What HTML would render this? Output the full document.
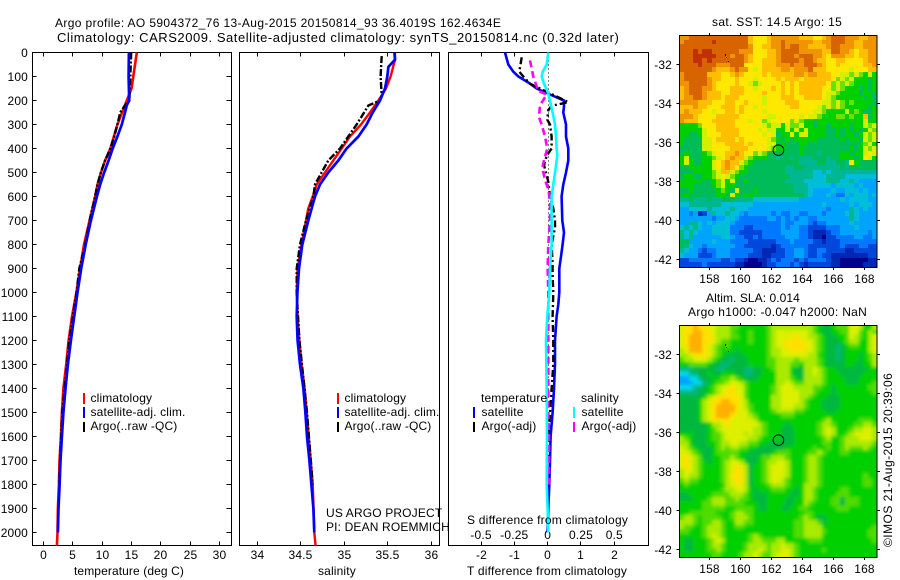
<!DOCTYPE html>
<html>
<head>
<meta charset="utf-8">
<style>
html,body{margin:0;padding:0;background:#fff;}
svg{display:block;}
text{font-family:"Liberation Sans",sans-serif;font-size:12px;fill:#000;letter-spacing:.15px;}
</style>
</head>
<body>
<svg id="fig" xmlns="http://www.w3.org/2000/svg" width="900" height="580" viewBox="0 0 900 580">
<defs>
<filter id="soften" x="-5%" y="-5%" width="110%" height="110%">
<feGaussianBlur stdDeviation="1.6" result="b"/>
<feMerge><feMergeNode in="SourceGraphic"/><feMergeNode in="b"/></feMerge>
</filter>
<clipPath id="slaClip"><rect x="679.5" y="325" width="197.5" height="232"/></clipPath>
</defs>
<rect width="900" height="580" fill="#fff"/>
<text x="55" y="27" textLength="446" lengthAdjust="spacing">Argo profile: AO 5904372_76 13-Aug-2015 20150814_93 36.4019S 162.4634E</text>
<text x="57" y="42" textLength="562" lengthAdjust="spacing" style="font-size:13px">Climatology: CARS2009. Satellite-adjusted climatology: synTS_20150814.nc (0.32d later)</text>
<g id="layer"></g>
<g>
<rect x="83" y="393" width="2" height="11" fill="#f00"/>
<text x="90.5" y="402">climatology</text>
<rect x="83" y="407" width="2" height="11" fill="#00f"/>
<text x="90.5" y="416">satellite-adj. clim.</text>
<rect x="83" y="422" width="2" height="10" fill="#000"/>
<text x="90.5" y="430">Argo(..raw -QC)</text>
</g>
<g>
<rect x="337" y="393" width="2" height="11" fill="#f00"/>
<text x="344.5" y="402">climatology</text>
<rect x="337" y="407" width="2" height="11" fill="#00f"/>
<text x="344.5" y="416">satellite-adj. clim.</text>
<rect x="337" y="422" width="2" height="10" fill="#000"/>
<text x="344.5" y="430">Argo(..raw -QC)</text>
</g>
<text x="326" y="517">US ARGO PROJECT</text>
<text x="326" y="531">PI: DEAN ROEMMICH</text>
<g>
<text x="481" y="402">temperature</text>
<rect x="473" y="407" width="2" height="11" fill="#00f"/>
<text x="481.5" y="416">satellite</text>
<rect x="473" y="422" width="2" height="10" fill="#000"/>
<text x="481.5" y="430">Argo(-adj)</text>
<text x="581" y="402">salinity</text>
<rect x="573" y="407" width="2" height="11" fill="#0ff"/>
<text x="581.5" y="416">satellite</text>
<rect x="573" y="422" width="2" height="10" fill="#f0f"/>
<text x="581.5" y="430">Argo(-adj)</text>
</g>
<text x="467" y="524" textLength="161" lengthAdjust="spacing">S difference from climatology</text>
<text x="74" y="575" textLength="110" lengthAdjust="spacing">temperature (deg C)</text>
<text x="318" y="575">salinity</text>
<text x="467" y="575" textLength="160" lengthAdjust="spacing">T difference from climatology</text>
<text x="712" y="26" textLength="130" lengthAdjust="spacing">sat. SST: 14.5 Argo: 15</text>
<text x="706" y="302" textLength="94" lengthAdjust="spacing">Altim. SLA: 0.014</text>
<text x="688" y="316" textLength="179" lengthAdjust="spacing">Argo h1000: -0.047 h2000: NaN</text>
<text transform="translate(892,547) rotate(-90)" textLength="174" lengthAdjust="spacing">©IMOS 21-Aug-2015 20:39:06</text>
</svg>
<script>
// ---------- profile data ----------
var tempClimDepth = [0,100,150,200,250,300,350,400,450,500,550,600,700,800,900,1000,1100,1200,1300,1400,1500,1600,1700,1800,1900,2000,2055];
var tempClimValues = [15.9,15.3,15.0,14.2,13.4,12.6,12.0,11.4,10.5,9.8,9.2,8.8,7.85,6.9,6.25,5.6,4.85,4.27,3.87,3.4,3.13,2.97,2.73,2.62,2.45,2.39,2.28];
var tempSatDepth = [0,100,200,220,250,300,350,400,450,500,550,600,700,800,900,1000,1100,1200,1300,1400,1500,1600,1700,1800,1900,2000];
var tempSatValues = [14.55,14.5,14.6,14.2,13.9,13.35,12.6,11.8,11.1,10.35,9.66,9.1,8.08,7.2,6.42,5.8,5.23,4.67,4.16,3.75,3.4,3.13,2.9,2.75,2.56,2.45];
var tempArgoDepth = [0,200,220,250,300,350,400,450,500,550,600,700,800,900,1000,1200,1500,1800];
var tempArgoValues = [14.95,14.65,13.9,13.07,12.6,12.05,11.4,10.5,9.77,9.2,8.8,7.85,7.1,6.1,5.62,4.4,3.2,2.65];

var salClimDepth = [0,30,100,150,200,250,300,350,400,450,500,550,600,650,700,800,900,1000,1100,1200,1300,1400,1500,1600,1700,1800,1900,2000,2055];
var salClimValues = [35.586,35.586,35.536,35.483,35.395,35.299,35.195,35.069,34.973,34.877,34.782,34.686,34.64,34.59,34.563,34.513,34.467,34.456,34.467,34.487,34.513,34.548,34.571,34.594,34.617,34.64,34.651,34.659,34.674];
var salSatDepth = [0,30,60,100,150,200,250,300,350,400,450,500,550,600,700,800,900,1000,1100,1200,1300,1400,1500,1600,1700,1800,1900,2000];
var salSatValues = [35.579,35.586,35.51,35.498,35.471,35.414,35.33,35.26,35.165,35.03,34.935,34.82,34.724,34.667,34.59,34.521,34.483,34.464,34.456,34.467,34.494,34.533,34.556,34.575,34.602,34.625,34.648,34.659];
var salArgoDepth = [15,100,180,200,221,300,350,400,450,500,550,600,700,800,900,1000,1200,1500,1800];
var salArgoValues = [35.433,35.421,35.433,35.414,35.28,35.146,35.05,34.954,34.82,34.743,34.667,34.648,34.563,34.494,34.456,34.456,34.487,34.575,34.64];

var diffTSatDepth = [0,50,80,100,125,150,175,200,225,250,300,350,400,450,500,550,600,700,750,800,850,900,1000,1050,1100,1200,1300,1400,1500,1600,1700,1800,1900,2000];
var diffTSatValues = [-1.28,-1.18,-1.03,-0.88,-0.58,-0.33,0.07,0.49,0.49,0.47,0.55,0.55,0.62,0.62,0.55,0.47,0.42,0.44,0.49,0.45,0.4,0.35,0.35,0.32,0.27,0.22,0.22,0.19,0.15,0.09,0.07,0.05,0.02,0];
var diffTArgoDepth = [20,80,100,130,170,190,207,222,240,280,300,350,400,430,470,510,540,600,650,700,730,800,880,930,1000,1100,1200,1300,1400,1500,1600,1700];
var diffTArgoValues = [-0.78,-0.85,-0.73,-0.53,0.07,0.37,0.62,0.12,0.02,-0.01,0.07,0.12,0.12,-0.03,-0.11,-0.03,0.02,0.07,0.17,0.22,0.22,0.12,0.15,0.15,0.17,0.15,0.17,0.17,0.12,0.07,0.02,0.02];
var diffSSatDepth = [0,50,80,100,130,170,200,250,300,350,400,430,500,550,600,700,800,900,1000,1100,1200,1400,1600,1800,1900,2000];
var diffSSatValues = [0.005,-0.0075,-0.0375,-0.045,-0.0275,0.005,0.0175,0.0375,0.055,0.0625,0.0675,0.0725,0.055,0.0425,0.03,0.03,0.03,0.0175,0.0125,-0.0025,-0.0125,-0.0075,-0.005,-0.0075,0,0.005];
var diffSArgoDepth = [33,100,160,175,220,270,300,350,400,450,480,530,570,620,700,800,900,1000,1100,1500,1600,1800];
var diffSArgoValues = [-0.1325,-0.1075,-0.07,-0.0075,-0.0575,-0.065,-0.045,-0.02,-0.0025,-0.0275,-0.04,-0.02,0.005,0.0175,0.0175,0.005,0,0.005,0.005,0.005,0.01,0.01];

// ---------- tick labels ----------
var depthTicks = [0,100,200,300,400,500,600,700,800,900,1000,1100,1200,1300,1400,1500,1600,1700,1800,1900,2000];
var tempTicks = [0,5,10,15,20,25,30];
var salTicks = [34,34.5,35,35.5,36];
var tDiffTicks = [-2,-1,0,1,2];
var sDiffTicks = [-0.5,-0.25,0,0.25,0.5];
var lonTicks = [158,160,162,164,166,168];
var latTicks = [-32,-34,-36,-38,-40,-42];

// ---------- map data (one hex level per cell, palette index) ----------
var floatLon = [162.46];
var floatLat = [-36.40];
var islandLon = [159.0,159.05,159.2];
var islandLat = [-31.45,-31.6,-31.8];
var sstPalette = ['#00008c','#0028b4','#0048dc','#0078ff','#00a4ff','#00bed8','#00b890','#00bc58','#00d000','#6ee000','#d2f000','#ffe800','#ffbe00','#f09400','#d86400','#c03000'];
var slaPalette = ['#00008c','#0028b4','#0048dc','#0078ff','#00a4ff','#00d8e8','#00b878','#00b83c','#00d000','#50dc00','#a8ea00','#dcf000','#ffe000','#ffb000','#d86400','#c03000'];
var sstRows = [
"ddeeeeeeee eeeeecbbbc ddddddcccb bcdeeedddc cdd",
"deeeeeefee eeeeecbbbc ddeddddddc cddeeeddcc ddd",
"eeeeeeeeee eeeeedbbcc ddedeeddcc ccdeedddcc ddd",
"eeefeffeee eeedddbbbc cdeeeedddd dcceeddcbc cdd",
"eeefffffee edeedcbbbc cdeeedeeed dcbdddccbc cdd",
"eeeffefeee eeeedcbbcc cdeeeedeed ccbbccbbbb cdd",
"eeeefeeedd deeebbbbcc cdddeddeee dcbbcbbbbb ccd",
"eeeeeeedcc cdeddbabcc ccddcdddec ccbbbbbabb bcc",
"deeeeecccb bcdcbbbbcb cccccddcdd cccbbaa9a9 8a8",
"deeeeedccb bbcbbbabbb bcbcccbccc cccb9a9a88 878",
"ddeeeedcbb bbcbba9abb bbcbcbcccc ccb9a9a988 878",
"cdeeeddcbb bcccbbabbb cbcbcbcccc cbb9a98887 878",
"cdeeedcccb bcccbbbbcb bbcbcbcccc cbaa988887 887",
"cddeedcccb cccbbbbbab bbcccbbccc cba9888888 787",
"ddddcccbbb ccbbcbbbab bbbcccbbbb baa9a98988 887",
"cccdccbbbc ccbcbbabbb bbbbccbbbb a9a9a98888 878",
"cdcccbbabb ccbcbbbbab bbbbbbbbba a98888a898 778",
"dddcbbbbcc cccbbbbbba abbbbbabaa 9888998988 c78",
"dcccbbbccc ccbbbabb9a bbbb9a9887 8888888888 a88",
"88889bbbcc ccbbbbbba9 aa8a99a887 8878888788 a9a",
"88888abbcc cccbbbbaba a88a8a8a88 8877878787 8a9",
"88778abbbc cccbbbbbab a788a8aa88 8877878878 a9a",
"87777aabcc ccbcbbbbba 9878788888 7777787887 a9a",
"87777aabbb ccccbcbbba a787778877 7777777778 9a8",
"77777aabbb bccccbbbba 9887778777 7777777878 a9a",
"7877789abb ccdcbb9a97 7777778777 6777788788 aba",
"8a777889ab cdcca98887 7677676667 7767788878 ba8",
"8a87788abc dcca987777 7777776666 7766776b87 777",
"7788888abc dcb9877777 7776677666 6666676777 777",
"77788889ac ca98877777 7776666665 5656666666 666",
"78877889ab a987777777 7777666665 5566665555 555",
"888887789a 8a77877777 7776666555 5566655654 444",
"888777789a 8877777777 7777766655 5554555545 444",
"7787777789 87a7778777 7777766654 4445445554 544",
"7877777788 7a87887777 7777777654 4454335455 545",
"6676667667 7766665555 5555554444 4444454555 544",
"5566666665 5555554444 4444444444 4544444545 554",
"4455556555 5655544444 4444444444 4434444654 544",
"4434124655 6554344444 3433443344 4344445654 444",
"4444444344 5543333334 4343434433 4444444654 444",
"4466545455 5433333333 3343344432 3344444544 444",
"5656544555 5333223333 3343443322 2233344454 444",
"6565444555 5332222233 3344443321 1123344444 434",
"6564444445 5433223233 3334443321 1022333344 334",
"7744444544 4333322222 2333433332 2122233333 333",
"7654434444 4433222222 1233333322 2222232223 322",
"6544323344 4333332211 1223344322 3322221122 222",
"5444222344 4333322211 2223344322 3221111111 122",
"2233333332 2322100112 3233323233 3321100000 011",
"2222232222 2211000012 2333232122 2221100000 111"
];
var slaRows = [
"bccdccbbaa a998888889 aaaaaaaaa9 8778999bba 88a",
"bccddccbaa a988898889 abbbbbbba9 8778899bb9 8a9",
"bcdddccbaa a998898889 abbbbcbbaa 9877889ba9 8ab",
"bcdddccba9 9888898889 abbccccbba 9877789aa8 8ab",
"bcdddcba98 9888888889 abbcccccba 9877678998 8ab",
"abdddcba98 8878888889 aabbcccbba 9877678888 8ab",
"aabcccba98 7777888889 aabbbbbbaa 8877678887 89a",
"9aabbba987 7677788889 9aaaa9aaaa 9877678887 89a",
"8899998776 6777788889 9aaa998aaa 9877778877 88a",
"6667777766 7777667788 9aaa877aab a988777777 788",
"5566778778 8877667788 8aaa877aab a988877777 888",
"4455677889 9a98777888 8aaa987aaa a988887778 888",
"4445567899 abba988888 8aaba99aaa a988887778 889",
"55566789ab bcbb988888 9abbbaaaa9 9887888888 899",
"66667789ab ccbb988888 9abbbbaaa9 8887888888 889",
"777778abcc cccb988888 aabbbbaa98 8877788888 888",
"77778abccd dccba88888 aabbbba988 8777788888 888",
"77778abcdd ddcba98888 aabbbaa988 8777788888 888",
"77778abcdd ddcbb98888 9aaaa99888 8877888888 888",
"77778abcdd dcbbba9888 8899988888 8888888888 888",
"77778abccc cbbbbba888 8888888888 89a8888889 998",
"7777778aab cbbbbbba98 8887888888 9aa9888899 aa9",
"77777789ab bbbbbbaa98 8877788888 9aba8889aa bba",
"888777899a bbbbabaa98 8877788888 9aba889abb bba",
"a98777899a bbbbbaa988 8877788888 89a889aaab bba",
"aa8777889a abbaa99887 7777788888 899889aaaa aa9",
"ba9877789a 9aa9988777 7778888889 889889a999 a98",
"bba9877899 9998877777 8999888899 a988899888 888",
"bcba977889 9a98777899 aaa98889aa 9888888888 888",
"bcba987889 abba87789a abba8889aa 9888888888 888",
"bcba988889 abcba7889a bbba8889aa 9888888888 888",
"abba988889 abcca7889a bbba8889aa 9888888888 888",
"abaa988889 accca7889a bbba8889aa 9888888888 988",
"9a99888889 abcca7889a bba98889aa 9888888888 998",
"8988888888 abcba78889 aaa9888aaa 9888888888 998",
"8888888889 aabba87888 9998878aa9 8888899888 888",
"7788888999 9aaa987778 8888778aa9 8888999888 888",
"7778889aaa 99a9987778 8887788aa9 8889979998 888",
"8888899aaa 9999888778 8887788a98 8889979998 888",
"8888899999 8899998778 8877889988 8888999888 888",
"8899999988 89aa998888 8888888998 8888888888 888",
"9aa9899998 89aaa98888 8888889a98 7788888888 888",
"aaa9899aa9 88aa998888 8888899aaa 9788888888 888",
"a99889aaa9 8899888888 8888899aaa a888888888 889",
"998889aaa9 8888888888 8888899aaa a988888888 899",
"888889aba9 888889a988 8888899aaa a888888888 899",
"8778889aba 888889aa99 9aa8888899 9888888888 889",
"8778889aa9 88889aaaa9 aabaa98888 8888888888 888",
"87788899a9 88889aaba9 aabba98888 8988888888 888",
"8888888998 8889aaba99 abbba98888 8888888888 888"
];

// ---------- axis functions ----------
var NS = 'http://www.w3.org/2000/svg';
var layer = document.getElementById('layer');
function mk(tag, parent) {
  var el = document.createElementNS(NS, tag);
  parent.appendChild(el);
  
  return el;
}
function linear(d0, d1, r0, r1) { return function (v) { return r0 + (v - d0) * (r1 - r0) / (d1 - d0); }; }
var yDepth = linear(0, 2000, 52.5, 532.5);
var PANEL_TOP = 52.5, PANEL_BOTTOM = 545.5;
var xTemp = linear(0, 30, 43.5, 219.5);
var xSal = linear(34, 36, 257, 431);
var xTD = linear(-2, 2, 481, 614.3);
var xSD = linear(-0.5, 0.5, 481, 614.3);

function seg(parent, x1, y1, x2, y2) {
  var l = mk('line', parent);
  l.setAttribute('x1', x1); l.setAttribute('y1', y1);
  l.setAttribute('x2', x2); l.setAttribute('y2', y2);
  l.setAttribute('stroke', '#000');
  l.setAttribute('shape-rendering', 'crispEdges');
  
  return l;
}
function label(parent, x, y, s, anchor) {
  var t = mk('text', parent);
  t.setAttribute('x', x); t.setAttribute('y', y);
  t.setAttribute('text-anchor', anchor);
  
  t.textContent = s;
  return t;
}
function frame(parent, x, y, w, h) {
  var r = mk('rect', parent);
  r.setAttribute('x', x); r.setAttribute('y', y);
  r.setAttribute('width', w); r.setAttribute('height', h);
  r.setAttribute('fill', 'none');
  r.setAttribute('stroke', '#000');
  r.setAttribute('shape-rendering', 'crispEdges');
  
  return r;
}
function profile(parent, name, xs, depth, values, color, width, dash) {
  var p = mk('polyline', parent);
  var pts = [];
  for (var i = 0; i < values.length; i++) pts.push(xs(values[i]).toFixed(1) + ',' + yDepth(depth[i]).toFixed(1));
  p.setAttribute('points', pts.join(' '));
  p.setAttribute('fill', 'none');
  p.setAttribute('stroke', color);
  p.setAttribute('stroke-width', width);
  if (dash) p.setAttribute('stroke-dasharray', dash);
  
  return p;
}
function fmt(v) { return String(v); }

function panel(name, left, right) {
  var g = mk('g', layer);
  
  frame(g, left, PANEL_TOP, right - left, PANEL_BOTTOM - PANEL_TOP);
  return g;
}

// Temperature panel
var gT = panel('temperature-panel', 32.5, 231.5);
depthTicks.forEach(function (d) {
  var y = Math.round(yDepth(d) - 0.5) + 0.5;
  if (d > 0) { seg(gT, 32.5, y, 36.5, y); seg(gT, 226.5, y, 231.5, y); }
  label(gT, 28, y + 4.5, fmt(d), 'end');
});
tempTicks.forEach(function (v) {
  var x = Math.round(xTemp(v) - 0.5) + 0.5;
  seg(gT, x, 52.5, x, 56.5); seg(gT, x, 541.5, x, 545.5);
  label(gT, x, 559, fmt(v), 'middle');
});
profile(gT, 'temperature-climatology-line', xTemp, tempClimDepth, tempClimValues, '#f00', 2.6);
profile(gT, 'temperature-argo-line', xTemp, tempArgoDepth, tempArgoValues, '#000', 2.4, '7 2 2 2');
profile(gT, 'temperature-satellite-line', xTemp, tempSatDepth, tempSatValues, '#00f', 2.7);

// Salinity panel
var gS = panel('salinity-panel', 239.5, 439.5);
salTicks.forEach(function (v) {
  var x = Math.round(xSal(v) - 0.5) + 0.5;
  seg(gS, x, 52.5, x, 56.5); seg(gS, x, 541.5, x, 545.5);
  label(gS, x, 559, fmt(v), 'middle');
});
profile(gS, 'salinity-climatology-line', xSal, salClimDepth, salClimValues, '#f00', 2.4);
profile(gS, 'salinity-argo-line', xSal, salArgoDepth, salArgoValues, '#000', 2.4, '7 2 2 2');
profile(gS, 'salinity-satellite-line', xSal, salSatDepth, salSatValues, '#00f', 2.7);

// Difference panel
var gD = panel('difference-panel', 448.5, 648.5);
tDiffTicks.forEach(function (v) {
  var x = Math.round(xTD(v) - 0.5) + 0.5;
  seg(gD, x, 52.5, x, 56.5); seg(gD, x, 541.5, x, 545.5);
  label(gD, x, 559, fmt(v), 'middle');
});
sDiffTicks.forEach(function (v) {
  label(gD, xSD(v), 539, fmt(v), 'middle');
});
var zero = mk('line', gD);
zero.setAttribute('x1', Math.round(xTD(0)) + 0.5); zero.setAttribute('x2', Math.round(xTD(0)) + 0.5);
zero.setAttribute('y1', 52.5); zero.setAttribute('y2', 400);
zero.setAttribute('stroke', '#000');
zero.setAttribute('stroke-dasharray', '1 3');
zero.setAttribute('shape-rendering', 'crispEdges');

profile(gD, 't-diff-satellite-line', xTD, diffTSatDepth, diffTSatValues, '#00f', 2.6);
profile(gD, 't-diff-argo-line', xTD, diffTArgoDepth, diffTArgoValues, '#000', 2.4, '7 3 2 3');
profile(gD, 's-diff-argo-line', xSD, diffSArgoDepth, diffSArgoValues, '#f0f', 2.6, '7 4');
profile(gD, 's-diff-satellite-line', xSD, diffSSatDepth, diffSSatValues, '#0ff', 2.6);

// Maps
function drawMap(name, rows, palette, top, labelBase, smooth) {
  var left = 679.5, right = 877, bottom = top + 232;
  var xLon = linear(158, 168, 709.5, 864);
  var yLat = linear(-32, -42, top + 29.7, top + 224);
  var g = mk('g', layer);
  
  var clipWrap = mk('g', g);
  
  var cells = mk('g', clipWrap);
  
  if (smooth) {
    clipWrap.setAttribute('clip-path', 'url(#slaClip)');
    cells.setAttribute('filter', 'url(#soften)');
  }
  var nr = rows.length;
  for (var r = 0; r < nr; r++) {
    var row = rows[r].replace(/ /g, '');
    var y0 = top + (bottom - top) * r / nr, y1 = top + (bottom - top) * (r + 1) / nr;
    var nc = row.length;
    for (var c = 0; c < nc; c++) {
      var x0 = left + (right - left) * c / nc, x1 = left + (right - left) * (c + 1) / nc;
      var cell = mk('rect', cells);
      cell.setAttribute('x', Math.round(x0));
      cell.setAttribute('y', Math.round(y0));
      cell.setAttribute('width', Math.round(x1) - Math.round(x0));
      cell.setAttribute('height', Math.round(y1) - Math.round(y0));
      cell.setAttribute('fill', palette[parseInt(row.charAt(c), 16)]);
      
    }
  }
  frame(g, left, top + 0.5, right - left, bottom - top);
  lonTicks.forEach(function (v) {
    var x = Math.round(xLon(v) - 0.5) + 0.5;
    seg(g, x, top - 2, x, top); seg(g, x, bottom, x, bottom + 3);
    label(g, x, labelBase, fmt(v), 'middle');
  });
  latTicks.forEach(function (v) {
    var y = Math.round(yLat(v) - 0.5) + 0.5;
    seg(g, left - 3, y, left, y); seg(g, right, y, right + 3, y);
    label(g, 672, y + 4.5, fmt(v), 'end');
  });
  islandLon.forEach(function (v, i) {
    var d = mk('rect', g);
    d.setAttribute('x', Math.round(xLon(v)));
    d.setAttribute('y', Math.round(yLat(islandLat[i])));
    d.setAttribute('width', 1);
    d.setAttribute('height', i === 0 ? 2 : 1);
    d.setAttribute('fill', '#000');
    
  });
  floatLon.forEach(function (v, i) {
    var m = mk('circle', g);
    m.setAttribute('cx', xLon(v));
    m.setAttribute('cy', yLat(floatLat[i]));
    m.setAttribute('r', 5.3);
    m.setAttribute('fill', 'none');
    m.setAttribute('stroke', '#000');
    
  });
}
drawMap('sst-map', sstRows, sstPalette, 35, 283, false);
drawMap('sla-map', slaRows, slaPalette, 325, 573, true);
</script>
</body>
</html>
